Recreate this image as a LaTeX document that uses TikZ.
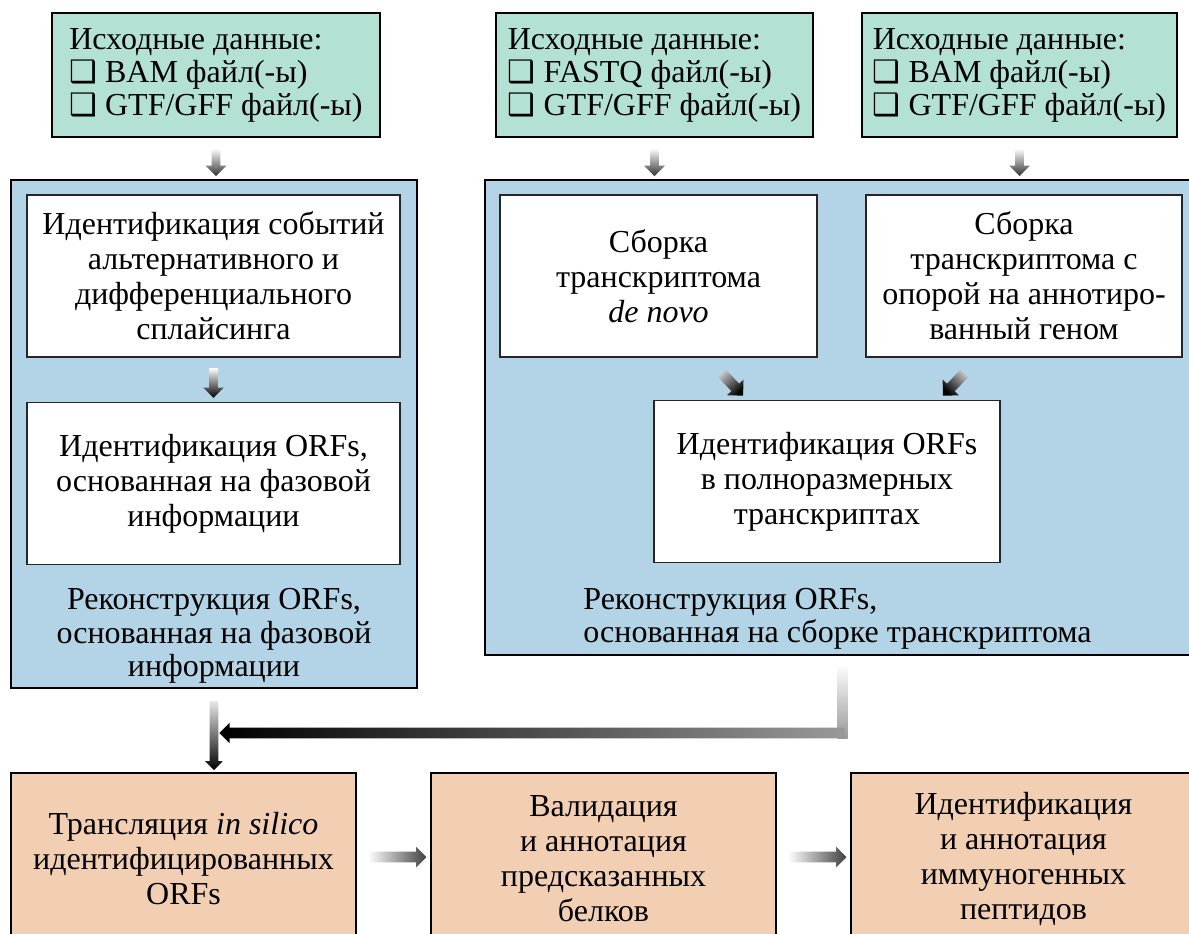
\documentclass[tikz,border=0pt]{standalone}
\usepackage{fontspec}
\setmainfont{Liberation Serif}
\newfontfamily\symfont{DejaVu Sans}
\usepackage{tikz}
\usetikzlibrary{positioning,shapes.arrows,calc}

\definecolor{srcgreen}{RGB}{179,226,213}
\definecolor{stageblue}{RGB}{178,212,230}
\definecolor{resorange}{RGB}{242,207,178}

\newcommand{\chk}{{\symfont\fontsize{15.5}{15}\selectfont ❑}\ }

% shaded arrow between two named points
\newcommand{\garrow}[3][]{%
  \path let \p1=($(#3)-(#2)$), \n1={atan2(\y1,\x1)}, \n2={veclen(\x1,\y1)} in
    node[garr, minimum height=\n2, rotate=\n1, #1, shading angle={90+\n1}]
      at ($(#2)!0.5!(#3)$) {};}

\begin{document}
\begin{tikzpicture}[
    x=0.5pt, y=-0.5pt,
    font=\fontsize{16}{17.5}\selectfont,
    src/.style={
        draw=black,
        line width=1.2pt,
        fill=srcgreen,
        minimum height=62pt,
        font=\fontsize{16}{16.5}\selectfont,
        align=left
    },
    stage/.style={
        draw=black,
        line width=1.2pt,
        fill=stageblue
    },
    inbox/.style={
        draw=black!85,
        line width=0.8pt,
        fill=white,
        minimum height=81pt,
        align=center
    },
    lbl/.style={
        font=\fontsize{16}{16.75}\selectfont
    },
    res/.style={
        draw=black,
        line width=1.2pt,
        fill=resorange,
        minimum width=172.5pt,
        minimum height=86pt,
        align=center
    },
    garr/.style={
        single arrow,
        single arrow head extend=3pt,
        single arrow head indent=0pt,
        minimum width=0pt,
        inner xsep=0pt,
        inner ysep=2pt,
        draw=none,
        left color=white,
        right color=black!80
    }
]
\useasboundingbox (0,0) rectangle (1189,933);
\clip (0,0) rectangle (1189,933);

% input data
\node[src, minimum width=164pt] (src1) at (216,75)
{Исходные данные:\\\chk BAM файл(-ы)\\\chk GTF/GFF файл(-ы)};
\node[src, minimum width=158.5pt] (src2) at (654.5,75)
{Исходные данные:\\\chk FASTQ файл(-ы)\\\chk GTF/GFF файл(-ы)};
\node[src, minimum width=157.5pt] (src3) at (1019.5,75)
{Исходные данные:\\\chk BAM файл(-ы)\\\chk GTF/GFF файл(-ы)};

% reconstruction blocks
\node[stage, minimum width=203pt, minimum height=254pt] (stageL) at (214,434) {};
\node[stage, minimum width=357.5pt, minimum height=237.5pt] (stageR) at (842.5,417.5) {};

\node[inbox, minimum width=186.5pt] (splice) at (213.5,276)
{Идентификация событий\\альтернативного и\\дифференциального\\сплайсинга};
\node[inbox, minimum width=186.5pt] (phase) at (213.5,483.5)
{Идентификация ORFs,\\основанная на фазовой\\информации};
\node[lbl, align=center] (lblL) at (214,636)
{Реконструкция ORFs,\\основанная на фазовой\\информации};

\node[inbox, minimum width=158.5pt] (denovo) at (658.5,276)
{Сборка\\транскриптома\\\textit{de novo}};
\node[inbox, minimum width=158pt] (refasm) at (1024,276)
{Сборка\\транскриптома с\\опорой на аннотиро-\\ванный геном};
\node[inbox, minimum width=173pt] (fullorf) at (827,481.5)
{Идентификация ORFs\\в полноразмерных\\транскриптах};
\node[lbl, align=left, anchor=west, inner sep=0pt] (lblR) at (583,619)
{Реконструкция ORFs,\\основанная на сборке транскриптома};

% results
\node[res] (trans) at (183.5,859)
{Трансляция \textit{in silico}\\идентифицированных\\ORFs};
\node[res] (valid) at (603.5,859)
{Валидация\\и аннотация\\предсказанных\\белков};
\node[res] (immuno) at (1023.5,859)
{Идентификация\\и аннотация\\иммуногенных\\пептидов};

% arrows
\coordinate (a1) at ($(src1.south)+(0,8)$);
\coordinate (b1) at ($(src1.south |- stageL.north)+(0,-5)$);
\coordinate (a2) at ($(src2.south)+(0,8)$);
\coordinate (b2) at ($(src2.south |- stageR.north)+(0,-5)$);
\coordinate (a3) at ($(src3.south)+(0,8)$);
\coordinate (b3) at ($(src3.south |- stageR.north)+(0,-5)$);
\garrow{a1}{b1}
\garrow{a2}{b2}
\garrow{a3}{b3}

\coordinate (a4) at ($(splice.south)+(0,8)$);
\coordinate (b4) at ($(phase.north)+(0,-6)$);
\garrow[right color=black]{a4}{b4}

\coordinate (d1) at ($(denovo.south)+(62,14)$);
\coordinate (d2) at ($(fullorf.north west)+(88,-6)$);
\coordinate (r1) at ($(refasm.south)+(-58,14)$);
\coordinate (r2) at ($(fullorf.north east)+(-56,-6)$);
\garrow[left color=black!25, right color=black, inner ysep=2.5pt]{d1}{d2}
\garrow[left color=black!25, right color=black, inner ysep=2.5pt]{r1}{r2}

\coordinate (turn) at (stageR.south |- 0,733);
\coordinate (merge) at (stageL.south |- turn);
\coordinate (h1) at ($(turn)+(5,0)$);
\coordinate (h2) at ($(merge)+(8,0)$);
\shade[top color=white, bottom color=black!40] ($(stageR.south)+(-5,8)$) rectangle ($(turn)+(5,5)$);
\garrow[left color=black!40, middle color=black, right color=black,
    inner ysep=2.5pt, single arrow head extend=2.5pt]{h1}{h2}

\coordinate (a5) at ($(stageL.south)+(0,10)$);
\coordinate (b5) at ($(trans.north)+(30.5,-4)$);
\coordinate (b5) at (a5 |- b5);
\garrow[left color=black!10, right color=black, inner ysep=2pt,
    single arrow head extend=2.25pt]{a5}{b5}

\coordinate (a6) at ($(trans.east)+(8,-2)$);
\coordinate (b6) at ($(valid.west)+(-6,-2)$);
\coordinate (a7) at ($(valid.east)+(8,-2)$);
\coordinate (b7) at ($(immuno.west)+(-6,-2)$);
\garrow[right color=black!75, inner ysep=2.5pt, single arrow head extend=2.5pt]{a6}{b6}
\garrow[right color=black!75, inner ysep=2.5pt, single arrow head extend=2.5pt]{a7}{b7}

\end{tikzpicture}
\end{document}
